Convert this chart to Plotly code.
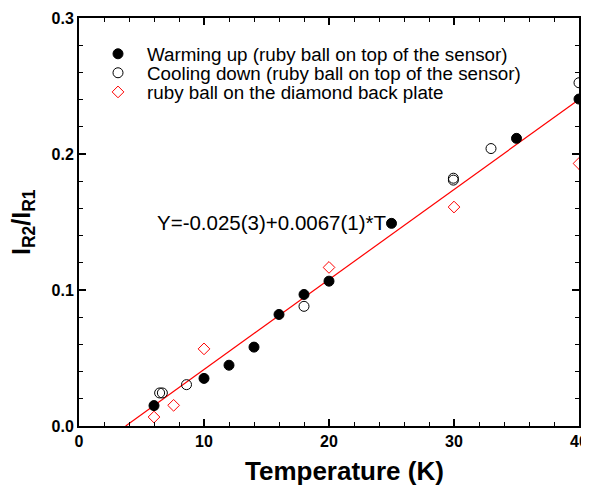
import plotly.graph_objects as go

# --- data ---
warm_T = [6, 10, 12, 14, 16, 18, 20, 25, 35, 40]
warm_R = [0.015, 0.035, 0.0447, 0.058, 0.082, 0.0967, 0.1065, 0.149, 0.2115, 0.2404]

cool_T = [6.45, 6.67, 8.6, 18, 29.95, 29.95, 32.96, 40]
cool_R = [0.0243, 0.0243, 0.0304, 0.088, 0.1808, 0.1822, 0.204, 0.2524]

plate_T = [6, 7.57, 10, 20, 30, 40]
plate_R = [0.0066, 0.0152, 0.0567, 0.1166, 0.161, 0.193]

fit_intercept = -0.0247
fit_slope = 0.00662
fit_T = [-fit_intercept / fit_slope, 40]
fit_R = [fit_intercept + fit_slope * t for t in fit_T]

fit_label = "Y=-0.025(3)+0.0067(1)*T"
x_title = "Temperature (K)"
y_title = "<b>I<sub>R2</sub>/I<sub>R1</sub></b>"
names = [
    "Warming up (ruby ball on top of the sensor)",
    "Cooling down (ruby ball on top of the sensor)",
    "ruby ball on the diamond back plate",
]

FONT = "Liberation Sans, Arial, sans-serif"

fig = go.Figure()
fig.add_trace(go.Scatter(x=fit_T, y=fit_R, mode="lines",
                         line=dict(color="red", width=1.2), showlegend=False))
fig.add_trace(go.Scatter(x=warm_T, y=warm_R, mode="markers", name=names[0], legend="legend",
                         marker=dict(symbol="circle", size=10, color="black",
                                     line=dict(color="black", width=1))))
fig.add_trace(go.Scatter(x=cool_T, y=cool_R, mode="markers", name=names[1], legend="legend2",
                         marker=dict(symbol="circle-open", size=10, color="black",
                                     line=dict(color="black", width=1))))
fig.add_trace(go.Scatter(x=plate_T, y=plate_R, mode="markers", name=names[2], legend="legend3",
                         marker=dict(symbol="diamond-open", size=9, color="red",
                                     line=dict(color="red", width=1))))

axis_common = dict(
    showline=True, linecolor="black", linewidth=2, mirror="ticks",
    ticks="inside", ticklen=7, tickwidth=1.5, tickcolor="black",
    showgrid=False, zeroline=False, automargin=False,
    tickfont=dict(family=FONT, size=16, color="black", weight="bold"),
)

fig.update_xaxes(range=[0, 40], dtick=10, tick0=0,
                 minor=dict(dtick=2, ticks="inside", ticklen=4, tickwidth=1, tickcolor="black"),
                 **axis_common)
fig.update_yaxes(range=[0, 0.3], dtick=0.1, tick0=0, tickformat=".1f",
                 minor=dict(dtick=0.02, ticks="inside", ticklen=4, tickwidth=1, tickcolor="black"),
                 **axis_common)

fig.add_annotation(x=6.1, y=0.1495, xref="x", yref="y", text=fit_label,
                   showarrow=False, xanchor="left", yanchor="middle",
                   font=dict(family=FONT, size=20.5, color="black"))
fig.add_annotation(x=0.53, y=-0.111, xref="paper", yref="paper", text=f"<b>{x_title}</b>",
                   showarrow=False, xanchor="center", yanchor="middle",
                   font=dict(family=FONT, size=26, color="black"))
fig.add_annotation(x=-0.112, y=0.5, xref="paper", yref="paper", text=y_title,
                   showarrow=False, xanchor="center", yanchor="middle", textangle=-90,
                   font=dict(family=FONT, size=25, color="black"))

leg_font = dict(family=FONT, size=18.8, color="black")
leg_common = dict(x=0.02, xanchor="left", yanchor="middle",
                  bgcolor="rgba(0,0,0,0)", borderwidth=0, font=leg_font, itemwidth=48)

fig.update_layout(
    width=581, height=481,
    margin=dict(l=71, r=10, t=10, b=63, autoexpand=False),
    paper_bgcolor="white", plot_bgcolor="white",
    showlegend=True,
    legend=dict(y=0.9116, **leg_common),
    legend2=dict(y=0.8651, **leg_common),
    legend3=dict(y=0.8181, **leg_common),
)

fig.write_html("out.html")
